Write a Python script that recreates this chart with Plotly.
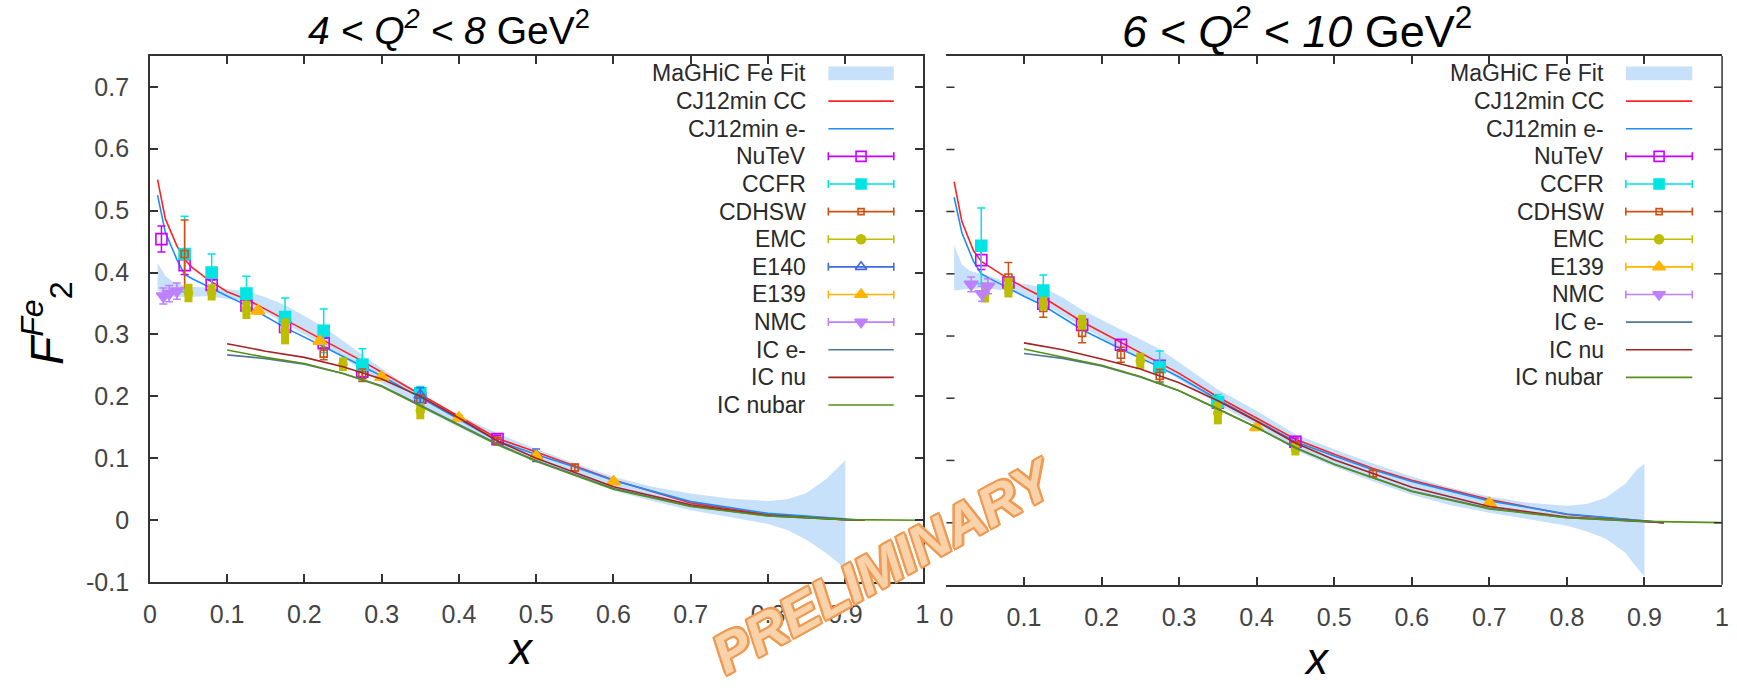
import plotly.graph_objects as go

W, H = 1737, 688

# ---------------- LEFT PANEL : 4 < Q2 < 8 GeV2 ----------------
L_band_x = [0.01, 0.02, 0.03, 0.05, 0.075, 0.10, 0.125, 0.15, 0.175, 0.20, 0.225, 0.25, 0.275, 0.30,
            0.35, 0.40, 0.45, 0.50, 0.55, 0.60, 0.65, 0.70, 0.75, 0.80, 0.825, 0.85, 0.875, 0.89, 0.90]
L_band_lo = [0.371, 0.365, 0.361, 0.360, 0.362, 0.358, 0.353, 0.335, 0.318, 0.300, 0.282, 0.262, 0.242, 0.222,
             0.182, 0.150, 0.120, 0.093, 0.070, 0.048, 0.031, 0.016, 0.005, -0.006, -0.016, -0.032, -0.053, -0.068, -0.080]
L_band_hi = [0.416, 0.395, 0.385, 0.377, 0.376, 0.373, 0.370, 0.360, 0.347, 0.330, 0.312, 0.290, 0.268, 0.245,
             0.204, 0.170, 0.140, 0.115, 0.092, 0.070, 0.054, 0.043, 0.035, 0.031, 0.034, 0.044, 0.066, 0.085, 0.097]

CJ_x = [0.01, 0.02, 0.035, 0.045, 0.055, 0.075, 0.10, 0.125, 0.175, 0.225, 0.275, 0.30, 0.35, 0.40,
        0.45, 0.50, 0.55, 0.60, 0.70, 0.80, 0.90, 0.925]
L_cc_y = [0.550, 0.487, 0.443, 0.421, 0.408, 0.389, 0.369, 0.357, 0.324, 0.291, 0.257, 0.239, 0.203, 0.167,
          0.132, 0.110, 0.088, 0.065, 0.028, 0.009, 0.001, 0.0]
L_em_y = [0.525, 0.465, 0.421, 0.397, 0.390, 0.377, 0.362, 0.347, 0.311, 0.280, 0.249, 0.233, 0.198, 0.163,
          0.128, 0.106, 0.086, 0.064, 0.030, 0.011, 0.002, 0.0]

IC_x = [0.10, 0.15, 0.20, 0.25, 0.30, 0.35, 0.40, 0.45, 0.50, 0.60, 0.70, 0.80, 0.90, 0.925]
ICbar_x = [0.10, 0.15, 0.20, 0.25, 0.30, 0.35, 0.40, 0.45, 0.50, 0.60, 0.70, 0.80, 0.90, 1.0]
L_ice_y = [0.267, 0.261, 0.252, 0.237, 0.217, 0.186, 0.155, 0.123, 0.096, 0.051, 0.023, 0.007, 0.001, 0.0]
L_icnu_y = [0.285, 0.273, 0.263, 0.248, 0.228, 0.200, 0.165, 0.128, 0.100, 0.054, 0.025, 0.008, 0.001, 0.0]
L_icbar_y = [0.275, 0.263, 0.253, 0.237, 0.216, 0.185, 0.154, 0.122, 0.095, 0.050, 0.022, 0.007, 0.001, 0.0]

L_nutev_x = [0.015, 0.045, 0.08, 0.125, 0.175, 0.225, 0.275, 0.35, 0.45]
L_nutev_y = [0.454, 0.412, 0.380, 0.347, 0.312, 0.286, 0.240, 0.198, 0.131]
L_nutev_e = [0.021, 0.015, 0.008, 0.008, 0.008, 0.008, 0.008, 0.008, 0.006]
L_ccfr_x = [0.045, 0.08, 0.125, 0.175, 0.225, 0.275, 0.35]
L_ccfr_y = [0.430, 0.400, 0.366, 0.328, 0.306, 0.251, 0.205]
L_ccfr_e = [0.061, 0.030, 0.028, 0.031, 0.035, 0.026, 0.011]
L_cdhsw_x = [0.045, 0.225, 0.275, 0.35, 0.45, 0.55]
L_cdhsw_y = [0.430, 0.269, 0.234, 0.195, 0.128, 0.085]
L_cdhsw_e = [0.055, 0.010, 0.010, 0.008, 0.006, 0.005]
L_emc_x = [0.05, 0.08, 0.125, 0.175, 0.25, 0.35]
L_emc_y = [0.367, 0.368, 0.340, 0.305, 0.252, 0.177]
L_emc_e = [0.015, 0.013, 0.015, 0.021, 0.011, 0.014]
L_e140_x = [0.35, 0.50]
L_e140_y = [0.202, 0.105]
L_e140_e = [0.012, 0.010]
L_e139_x = [0.14, 0.22, 0.30, 0.40, 0.50, 0.60]
L_e139_y = [0.338, 0.289, 0.231, 0.165, 0.103, 0.062]
L_e139_e = [0.005, 0.005, 0.005, 0.004, 0.004, 0.003]
L_nmc_x = [0.0175, 0.025, 0.035]
L_nmc_y = [0.362, 0.366, 0.370]
L_nmc_e = [0.013, 0.013, 0.013]

# ---------------- RIGHT PANEL : 6 < Q2 < 10 GeV2 ----------------
R_band_x = L_band_x
R_band_lo = [0.373, 0.375, 0.376, 0.377, 0.373, 0.365, 0.352, 0.333, 0.315, 0.297, 0.279, 0.264, 0.250, 0.230,
             0.190, 0.156, 0.116, 0.090, 0.066, 0.045, 0.028, 0.016, 0.005, -0.005, -0.014, -0.026, -0.048, -0.072, -0.086]
R_band_hi = [0.446, 0.415, 0.405, 0.398, 0.388, 0.384, 0.378, 0.362, 0.342, 0.326, 0.310, 0.295, 0.279, 0.258,
             0.214, 0.180, 0.142, 0.118, 0.095, 0.074, 0.056, 0.042, 0.032, 0.027, 0.030, 0.040, 0.062, 0.085, 0.095]
R_cc_y = [0.548, 0.484, 0.437, 0.420, 0.412, 0.396, 0.378, 0.362, 0.323, 0.290, 0.256, 0.240, 0.202, 0.168,
          0.134, 0.110, 0.087, 0.068, 0.037, 0.013, 0.003, 0.0]
R_em_y = [0.523, 0.466, 0.420, 0.400, 0.393, 0.380, 0.364, 0.349, 0.310, 0.279, 0.250, 0.234, 0.198, 0.164,
          0.130, 0.107, 0.085, 0.066, 0.035, 0.014, 0.003, 0.0]
R_ice_y = [0.272, 0.264, 0.252, 0.234, 0.212, 0.183, 0.153, 0.120, 0.094, 0.051, 0.023, 0.008, 0.002, 0.0]
R_icnu_y = [0.289, 0.278, 0.263, 0.247, 0.225, 0.196, 0.163, 0.128, 0.101, 0.057, 0.026, 0.009, 0.002, 0.0]
R_icbar_y = [0.279, 0.266, 0.253, 0.235, 0.212, 0.183, 0.153, 0.121, 0.094, 0.050, 0.022, 0.008, 0.002, 0.0]

R_nutev_x = [0.045, 0.08, 0.125, 0.175, 0.225, 0.275, 0.35, 0.45]
R_nutev_y = [0.422, 0.386, 0.352, 0.318, 0.286, 0.252, 0.193, 0.130]
R_nutev_e = [0.015, 0.008, 0.008, 0.008, 0.008, 0.008, 0.008, 0.006]
R_ccfr_x = [0.045, 0.125, 0.275, 0.35]
R_ccfr_y = [0.445, 0.373, 0.250, 0.194]
R_ccfr_e = [0.061, 0.025, 0.026, 0.012]
R_cdhsw_x = [0.08, 0.125, 0.175, 0.225, 0.275, 0.45, 0.55]
R_cdhsw_y = [0.394, 0.345, 0.305, 0.270, 0.236, 0.124, 0.079]
R_cdhsw_e = [0.024, 0.015, 0.016, 0.012, 0.010, 0.006, 0.005]
R_emc_x = [0.05, 0.08, 0.125, 0.175, 0.25, 0.35, 0.45]
R_emc_y = [0.370, 0.378, 0.352, 0.322, 0.260, 0.176, 0.118]
R_emc_e = [0.016, 0.016, 0.011, 0.012, 0.013, 0.018, 0.010]
R_e139_x = [0.40, 0.70]
R_e139_y = [0.153, 0.031]
R_e139_e = [0.004, 0.003]
R_nmc_x = [0.032, 0.046, 0.0535]
R_nmc_y = [0.383, 0.368, 0.380]
R_nmc_e = [0.012, 0.012, 0.012]

x_tickvals = [0, 0.1, 0.2, 0.3, 0.4, 0.5, 0.6, 0.7, 0.8, 0.9, 1.0]
x_ticktext = ["0", "0.1", "0.2", "0.3", "0.4", "0.5", "0.6", "0.7", "0.8", "0.9", "1"]
y_tickvals = [-0.1, 0, 0.1, 0.2, 0.3, 0.4, 0.5, 0.6, 0.7]
y_ticktext = ["-0.1", "0", "0.1", "0.2", "0.3", "0.4", "0.5", "0.6", "0.7"]

L_legend = ["MaGHiC Fe Fit", "CJ12min CC", "CJ12min e-", "NuTeV", "CCFR", "CDHSW", "EMC", "E140",
            "E139", "NMC", "IC e-", "IC nu", "IC nubar"]
R_legend = ["MaGHiC Fe Fit", "CJ12min CC", "CJ12min e-", "NuTeV", "CCFR", "CDHSW", "EMC",
            "E139", "NMC", "IC e-", "IC nu", "IC nubar"]

# ---------------- styles ----------------
C_BAND = "rgb(200,225,250)"
C_CC = "rgb(255,35,35)"
C_EM = "rgb(30,140,250)"
C_NUTEV = "rgb(200,0,255)"
C_CCFR = "rgb(0,228,228)"
C_CDHSW = "rgb(205,80,20)"
C_EMC = "rgb(190,190,0)"
C_E140 = "rgb(65,105,225)"
C_E139 = "rgb(255,180,0)"
C_NMC = "rgb(190,128,255)"
C_ICE = "rgb(80,120,150)"
C_ICNU = "rgb(165,35,35)"
C_ICBAR = "rgb(85,145,25)"
C_AX = "#333333"

STYLE = {
    "NuTeV": dict(color=C_NUTEV, symbol="square-open", size=11, thick=1.5, cap=4),
    "CCFR": dict(color=C_CCFR, symbol="square", size=11, thick=1.5, cap=4),
    "CDHSW": dict(color=C_CDHSW, symbol="square-open", size=7, thick=1.5, cap=4),
    "EMC": dict(color=C_EMC, symbol="circle", size=8, thick=8, cap=0),
    "E140": dict(color=C_E140, symbol="triangle-up-open", size=11, thick=1.5, cap=4),
    "E139": dict(color=C_E139, symbol="triangle-up", size=12, thick=1.5, cap=4),
    "NMC": dict(color=C_NMC, symbol="triangle-down", size=12, thick=1.5, cap=4),
}
LINE_COL = {"CJ12min CC": C_CC, "CJ12min e-": C_EM, "IC e-": C_ICE, "IC nu": C_ICNU, "IC nubar": C_ICBAR}

fig = go.Figure()


def band(x, lo, hi, xa, ya):
    fig.add_trace(go.Scatter(x=x, y=lo, mode="lines", line=dict(width=0, color=C_BAND),
                             xaxis=xa, yaxis=ya, showlegend=False, hoverinfo="skip"))
    fig.add_trace(go.Scatter(x=x, y=hi, mode="lines", line=dict(width=0, color=C_BAND),
                             fill="tonexty", fillcolor=C_BAND,
                             xaxis=xa, yaxis=ya, showlegend=False, hoverinfo="skip"))


def curve(x, y, color, xa, ya):
    fig.add_trace(go.Scatter(x=x, y=y, mode="lines", line=dict(color=color, width=1.6),
                             xaxis=xa, yaxis=ya, showlegend=False, hoverinfo="skip"))


def points(x, y, e, name, xa, ya):
    s = STYLE[name]
    fig.add_trace(go.Scatter(
        x=x, y=y, mode="markers", xaxis=xa, yaxis=ya, showlegend=False, hoverinfo="skip",
        error_y=dict(type="data", array=e, visible=True, color=s["color"], thickness=s["thick"], width=s["cap"]),
        marker=dict(symbol=s["symbol"], size=s["size"], color=s["color"],
                    line=dict(color=s["color"], width=1.6))))


# left panel
band(L_band_x, L_band_lo, L_band_hi, "x", "y")
curve(CJ_x, L_cc_y, C_CC, "x", "y")
curve(CJ_x, L_em_y, C_EM, "x", "y")
points(L_nutev_x, L_nutev_y, L_nutev_e, "NuTeV", "x", "y")
points(L_ccfr_x, L_ccfr_y, L_ccfr_e, "CCFR", "x", "y")
points(L_cdhsw_x, L_cdhsw_y, L_cdhsw_e, "CDHSW", "x", "y")
points(L_emc_x, L_emc_y, L_emc_e, "EMC", "x", "y")
points(L_e140_x, L_e140_y, L_e140_e, "E140", "x", "y")
points(L_e139_x, L_e139_y, L_e139_e, "E139", "x", "y")
points(L_nmc_x, L_nmc_y, L_nmc_e, "NMC", "x", "y")
curve(IC_x, L_ice_y, C_ICE, "x", "y")
curve(IC_x, L_icnu_y, C_ICNU, "x", "y")
curve(ICbar_x, L_icbar_y, C_ICBAR, "x", "y")

# right panel
band(R_band_x, R_band_lo, R_band_hi, "x2", "y2")
curve(CJ_x, R_cc_y, C_CC, "x2", "y2")
curve(CJ_x, R_em_y, C_EM, "x2", "y2")
points(R_nutev_x, R_nutev_y, R_nutev_e, "NuTeV", "x2", "y2")
points(R_ccfr_x, R_ccfr_y, R_ccfr_e, "CCFR", "x2", "y2")
points(R_cdhsw_x, R_cdhsw_y, R_cdhsw_e, "CDHSW", "x2", "y2")
points(R_emc_x, R_emc_y, R_emc_e, "EMC", "x2", "y2")
points(R_e139_x, R_e139_y, R_e139_e, "E139", "x2", "y2")
points(R_nmc_x, R_nmc_y, R_nmc_e, "NMC", "x2", "y2")
curve(IC_x, R_ice_y, C_ICE, "x2", "y2")
curve(IC_x, R_icnu_y, C_ICNU, "x2", "y2")
curve(ICbar_x, R_icbar_y, C_ICBAR, "x2", "y2")

# ---------------- legends (drawn in pixel overlay axes x3/y3) ----------------
LEG_FONT = dict(family="Liberation Sans, Arial, sans-serif", size=23, color="#2a2a2a")
annotations = []
shapes = []


def legend(labels, text_right, s0, s1, y0, dy):
    cx = (s0 + s1) / 2
    for i, lab in enumerate(labels):
        yy = y0 + i * dy
        annotations.append(dict(x=text_right, y=yy, xref="x3", yref="y3", text=lab, showarrow=False,
                                xanchor="right", yanchor="middle", font=LEG_FONT))
        if lab == "MaGHiC Fe Fit":
            shapes.append(dict(type="rect", xref="x3", yref="y3", x0=s0, x1=s1, y0=yy - 7, y1=yy + 7,
                               fillcolor=C_BAND, line=dict(width=0), layer="above"))
        elif lab in LINE_COL:
            fig.add_trace(go.Scatter(x=[s0, s1], y=[yy, yy], mode="lines", xaxis="x3", yaxis="y3",
                                     line=dict(color=LINE_COL[lab], width=1.6),
                                     showlegend=False, hoverinfo="skip"))
        else:
            s = STYLE[lab]
            fig.add_trace(go.Scatter(
                x=[cx], y=[yy], mode="markers", xaxis="x3", yaxis="y3", showlegend=False, hoverinfo="skip",
                error_x=dict(type="constant", value=(s1 - s0) / 2, visible=True, color=s["color"],
                             thickness=1.6, width=4),
                marker=dict(symbol=s["symbol"], size=s["size"] - 1 if lab != "EMC" else 9,
                            color=s["color"], line=dict(color=s["color"], width=1.6))))


legend(L_legend, 808, 828, 894, 75, 28.2)
legend(R_legend, 1612, 1632, 1699, 75, 28.2)

# right panel frame: no line on its left side (white strip in the gap between panels),
# right line, and inside ticks
shapes.append(dict(type="rect", xref="x3", yref="y3", x0=927, x1=948.6, y0=59, y1=595,
                   fillcolor="white", line=dict(width=0), layer="above"))
shapes.append(dict(type="line", xref="x2 domain", yref="y2 domain", x0=1, x1=1, y0=0, y1=1,
                   line=dict(color=C_AX, width=1.5), layer="above"))
for tv in y_tickvals[1:]:
    shapes.append(dict(type="line", xref="x2 domain", yref="y2", x0=0, x1=0.0105, y0=tv, y1=tv,
                       line=dict(color=C_AX, width=1.5), layer="above"))
    shapes.append(dict(type="line", xref="x2 domain", yref="y2", x0=0.9895, x1=1, y0=tv, y1=tv,
                       line=dict(color=C_AX, width=1.5), layer="above"))

# titles and axis labels
annotations.append(dict(x=446, y=28, xref="x3", yref="y3", showarrow=False, xanchor="center", yanchor="middle",
                        text="<i>4 &lt; Q</i><sup><i>2</i></sup><i> &lt; 8</i> GeV<sup>2</sup>",
                        font=dict(family="Liberation Sans, Arial, sans-serif", size=39, color="#000000")))
annotations.append(dict(x=1300, y=29, xref="x3", yref="y3", showarrow=False, xanchor="center", yanchor="middle",
                        text="<i>6 &lt; Q</i><sup><i>2</i></sup><i> &lt; 10</i> GeV<sup>2</sup>",
                        font=dict(family="Liberation Sans, Arial, sans-serif", size=45, color="#000000")))
annotations.append(dict(x=40, y=330, xref="x3", yref="y3", showarrow=False, xanchor="center", yanchor="middle",
                        textangle=-90, text="<i>F</i><sup><i>Fe</i></sup><sub>2</sub>",
                        font=dict(family="Liberation Sans, Arial, sans-serif", size=46, color="#000000")))
annotations.append(dict(x=518, y=662, xref="x3", yref="y3", showarrow=False, xanchor="center", yanchor="middle",
                        text="<i>x</i>", font=dict(family="Liberation Sans, Arial, sans-serif", size=44, color="#000")))
annotations.append(dict(x=1321, y=672, xref="x3", yref="y3", showarrow=False, xanchor="center", yanchor="middle",
                        text="<i>x</i>", font=dict(family="Liberation Sans, Arial, sans-serif", size=44, color="#000")))

# watermark
OUT = "#EF9A52"
annotations.append(dict(
    x=884, y=578, xref="x3", yref="y3", showarrow=False, xanchor="center", yanchor="middle",
    textangle=-29, text="<b><i>PRELIMINARY</i></b>",
    font=dict(family="Liberation Sans, Arial, sans-serif", size=55, color="#FAD2AA",
              shadow=(f"-2px -2px 0 {OUT}, 2px -2px 0 {OUT}, -2px 2px 0 {OUT}, 2px 2px 0 {OUT}, "
                      f"0 -2px 0 {OUT}, 0 2px 0 {OUT}, -2px 0 0 {OUT}, 2px 0 0 {OUT}"))))

# ---------------- axes ----------------
TICKFONT = dict(family="Liberation Sans Narrow, Arial Narrow, Liberation Sans, sans-serif", size=25, color="#444444")
AX = dict(showgrid=False, zeroline=False, ticks="inside", ticklen=8, tickwidth=1.5, tickcolor=C_AX,
          showline=True, linewidth=1.5, linecolor=C_AX, tickfont=TICKFONT, fixedrange=True)

fig.update_layout(
    width=W, height=H, margin=dict(l=0, r=0, t=0, b=0, pad=0),
    paper_bgcolor="white", plot_bgcolor="rgba(0,0,0,0)", showlegend=False, hovermode=False,
    xaxis=dict(AX, domain=[144 / W, 923 / W], range=[0, 1], tickvals=x_tickvals, ticktext=x_ticktext,
               mirror="ticks", anchor="y", ticklabelstandoff=9),
    yaxis=dict(AX, domain=[(H - 594.2) / H, (H - 57) / H], range=[-0.1, 0.75], tickvals=y_tickvals,
               ticktext=y_ticktext, mirror="ticks", anchor="x", ticklabelstandoff=14),
    xaxis2=dict(AX, domain=[947 / W, 1729 / W], range=[0, 1], tickvals=x_tickvals, ticktext=x_ticktext,
                mirror="ticks", anchor="y2", ticklabelstandoff=9),
    yaxis2=dict(domain=[(H - 597) / H, (H - 57.25) / H], range=[-0.1, 0.75], showline=False, ticks="",
                showticklabels=False, showgrid=False, zeroline=False, mirror=False, anchor="x2",
                fixedrange=True),
    xaxis3=dict(domain=[0, 1], range=[0, W], visible=False, fixedrange=True, anchor="y3"),
    yaxis3=dict(domain=[0, 1], range=[H, 0], visible=False, fixedrange=True, anchor="x3"),
    annotations=annotations, shapes=shapes,
)

fig.write_html("out.html")
